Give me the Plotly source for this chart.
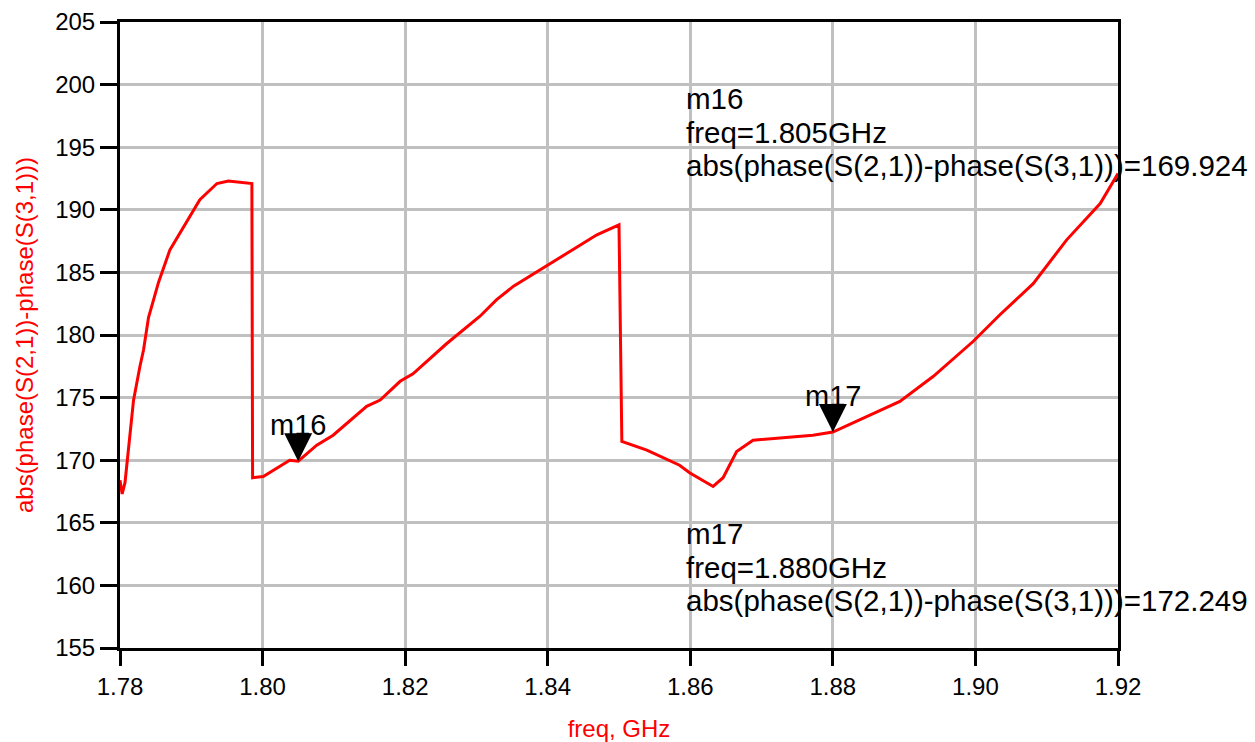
import plotly.graph_objects as go

freq = [1.7800, 1.7803, 1.7807, 1.7814, 1.7819, 1.7828, 1.7833, 1.7840, 1.7854, 1.7870,
        1.7889, 1.7912, 1.7936, 1.7952, 1.7985, 1.7986, 1.8001, 1.8024, 1.8038, 1.8050,
        1.8076, 1.8099, 1.8146, 1.8165, 1.8193, 1.8211, 1.8258, 1.8305, 1.8328, 1.8352,
        1.8398, 1.8445, 1.8469, 1.8500, 1.8504, 1.8539, 1.8585, 1.8599, 1.8632, 1.8646,
        1.8665, 1.8688, 1.8726, 1.8772, 1.8800, 1.8866, 1.8894, 1.8941, 1.8997, 1.9034,
        1.9081, 1.9128, 1.9175, 1.9200]
phase_diff = [168.4, 167.3, 168.2, 172.1, 174.8, 177.5, 178.8, 181.4, 184.2, 186.8,
              188.6, 190.8, 192.1, 192.3, 192.1, 168.6, 168.7, 169.5, 170.0, 169.924,
              171.2, 172.0, 174.3, 174.8, 176.3, 176.9, 179.3, 181.5, 182.8, 183.9,
              185.5, 187.1, 188.0, 188.8, 171.5, 170.8, 169.6, 169.0, 167.9, 168.6,
              170.7, 171.6, 171.8, 172.0, 172.249, 174.0, 174.7, 176.7, 179.5, 181.6,
              184.1, 187.6, 190.5, 192.9]

marker_names = ["m16", "m17"]
marker_freq = [1.805, 1.880]
marker_val = [169.924, 172.249]
# readout block line positions (data y of each line centre) and left x
readout_lines_y = [[198.89, 196.21, 193.53], [164.15, 161.47, 158.79]]
readout_x = 1.8593

x_ticks = [1.78, 1.80, 1.82, 1.84, 1.86, 1.88, 1.90, 1.92]
x_tick_text = ["1.78", "1.80", "1.82", "1.84", "1.86", "1.88", "1.90", "1.92"]
y_ticks = [155, 160, 165, 170, 175, 180, 185, 190, 195, 200, 205]

FONT = "Liberation Sans, Arial, sans-serif"

fig = go.Figure()
fig.add_trace(go.Scatter(x=freq, y=phase_diff, mode="lines",
                         line=dict(color="#ff0000", width=3), showlegend=False,
                         hoverinfo="skip"))
fig.add_trace(go.Scatter(x=marker_freq, y=marker_val, mode="markers",
                         marker=dict(symbol="arrow-down", size=28, color="black"),
                         showlegend=False, hoverinfo="skip"))

for name, f, v in zip(marker_names, marker_freq, marker_val):
    fig.add_annotation(x=f, y=v, xref="x", yref="y", text=name, showarrow=False,
                       yanchor="bottom", yshift=18,
                       font=dict(family=FONT, size=29, color="black"))

for name, f, v, ys in zip(marker_names, marker_freq, marker_val, readout_lines_y):
    lines = [name, f"freq={f:.3f}GHz",
             f"abs(phase(S(2,1))-phase(S(3,1)))={v:.3f}"]
    for txt, yy in zip(lines, ys):
        fig.add_annotation(x=readout_x, y=yy, xref="x", yref="y", text=txt,
                           showarrow=False, xanchor="left", yanchor="middle",
                           align="left", borderpad=0,
                           font=dict(family=FONT, size=29.5, color="black"))

fig.update_layout(
    width=1255, height=742,
    margin=dict(l=120, r=137, t=22, b=94),
    plot_bgcolor="white", paper_bgcolor="white",
    font=dict(family=FONT, size=24, color="black"),
    xaxis=dict(range=[1.78, 1.92], tickvals=x_ticks, ticktext=x_tick_text,
               showgrid=True, gridcolor="#c0c0c0", gridwidth=3,
               showline=True, linecolor="black", linewidth=3, mirror=True,
               ticks="outside", ticklen=15, tickwidth=3, tickcolor="black",
               zeroline=False, automargin=False,
               title=dict(text="freq, GHz", font=dict(color="#ff0000", size=24),
                          standoff=22)),
    yaxis=dict(range=[155, 205], tickvals=y_ticks,
               showgrid=True, gridcolor="#c0c0c0", gridwidth=3,
               showline=True, linecolor="black", linewidth=3, mirror=True,
               ticks="outside", ticklen=17, tickwidth=3, tickcolor="black",
               zeroline=False, automargin=False,
               title=dict(text="abs(phase(S(2,1))-phase(S(3,1)))",
                          font=dict(color="#ff0000", size=24), standoff=15)),
)

fig.write_html("out.html", config={"displayModeBar": False},
               post_script="document.body.style.margin='0';")
